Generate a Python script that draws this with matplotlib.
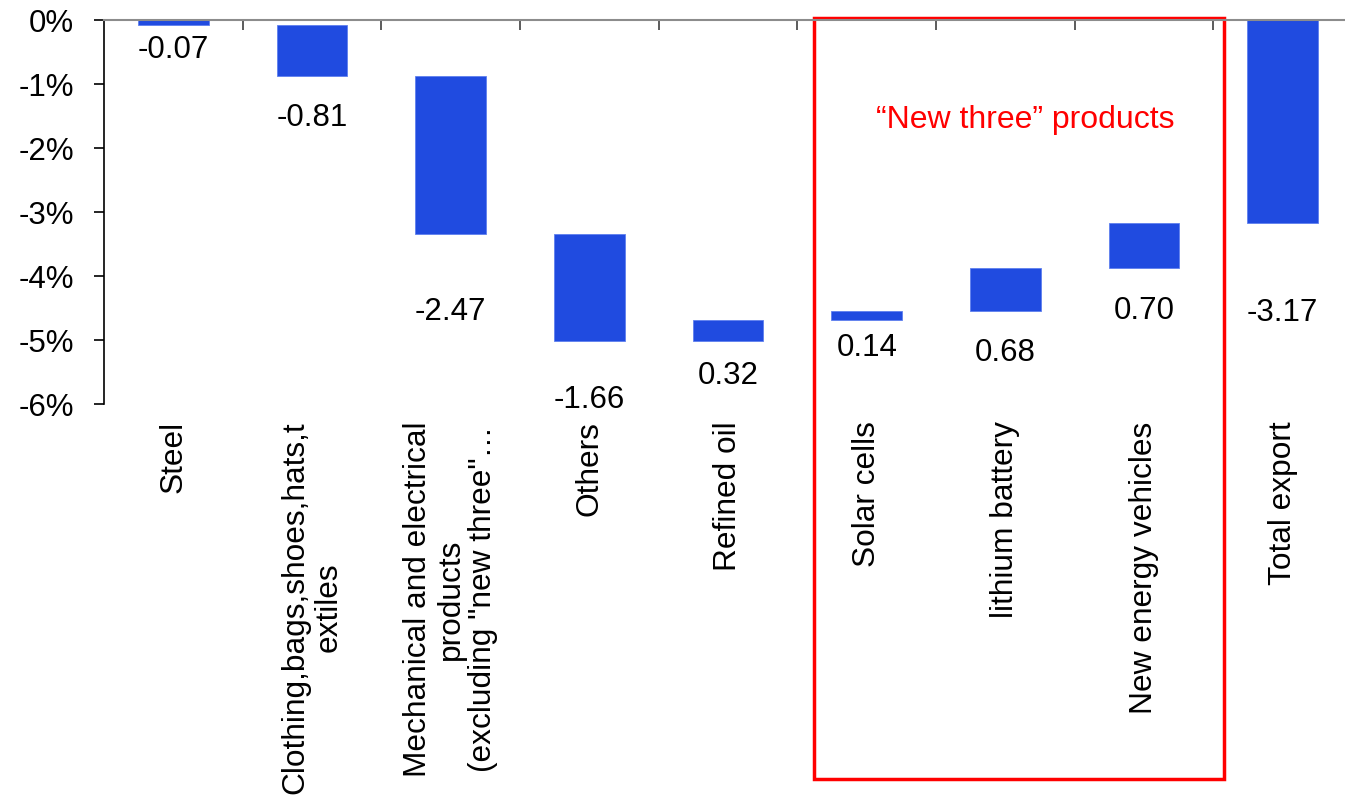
import matplotlib
matplotlib.use("Agg")
import matplotlib.pyplot as plt
import matplotlib.patches as patches
import numpy as np

# Contribution to export growth, percentage points
categories = [
    "Steel",
    "Clothing,bags,shoes,hats,t\nextiles",
    "Mechanical and electrical\nproducts\n(excluding \"new three\"\u2026",
    "Others",
    "Refined oil",
    "Solar cells",
    "lithium battery",
    "New energy vehicles",
    "Total export",
]
changes = [-0.07, -0.81, -2.47, -1.66, 0.32, 0.14, 0.68, 0.70]
total = -3.17

# where each value label sits (in % units)
label_y = [-0.47, -1.53, -4.56, -5.94, -5.56, -5.13, -5.20, -4.55, -4.58]

plt.rcParams['font.family'] = ['Liberation Sans', 'DejaVu Sans']

bar_color = '#204BE0'

# waterfall: floating bars for each step, full bar for the total
ends = np.cumsum(changes)
starts = ends - np.array(changes)
bottoms = list(np.minimum(starts, ends)) + [min(0, total)]
heights = [abs(c) for c in changes] + [abs(total)]
values = changes + [total]

fig = plt.figure(figsize=(13.45, 7.98), dpi=100)
ax = fig.add_axes([0.0773, 0.4937, 0.928, 0.4812])

x = np.arange(len(categories))
ax.bar(x, heights, bottom=bottoms, width=0.51, color=bar_color,
       edgecolor='#5f80ee', linewidth=0.6)

for xi, v, ly in zip(x, values, label_y):
    ax.text(xi, ly, f"{v:.2f}", ha='center', va='center', fontsize=22.5)

for xi, name in zip(x, categories):
    ax.text(xi, -6.27, name, rotation=90, ha='center', va='top',
            multialignment='center', fontsize=22.8, linespacing=1.1)

ax.set_xlim(-0.5, len(categories) - 0.5)
ax.set_ylim(-6, 0)
ax.set_yticks(np.arange(-6, 1, 1))
ax.set_yticklabels([f"{t}%" for t in range(-6, 1)], fontsize=22.5)
ax.tick_params(axis='y', direction='out', length=7.5, width=1.2, pad=14)

# category separators as ticks hanging from the zero line
ax.xaxis.set_ticks_position('top')
ax.set_xticks(np.arange(0.5, len(categories) - 1, 1))
ax.set_xticklabels([])
ax.tick_params(axis='x', direction='in', length=7.5, width=1.2, color='#404040')

for s in ['bottom', 'right']:
    ax.spines[s].set_visible(False)
ax.spines['top'].set_color('#8c8c8c')
ax.spines['top'].set_linewidth(1.5)
ax.spines['left'].set_color('black')
ax.spines['left'].set_linewidth(1.2)

# box around the "new three" group
box = patches.Rectangle((4.62, -11.86), 2.955, 11.89, fill=False,
                        edgecolor='#ff0000', linewidth=2.5, clip_on=False)
ax.add_patch(box)
ax.text(6.14, -1.56, "\u201cNew three\u201d products", color='#ff0000',
        ha='center', va='center', fontsize=23)

fig.savefig('out.png', dpi=100)
